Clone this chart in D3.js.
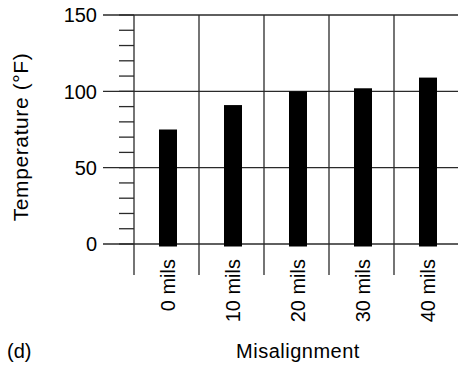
<!DOCTYPE html>
<html>
<head>
<meta charset="utf-8">
<script src="https://cdn.jsdelivr.net/npm/d3@7"></script>
<style>
  body { margin: 0; background: #fff; }
  text { font-family: "Liberation Sans", Arial, Helvetica, sans-serif; fill: #000; }
</style>
</head>
<body>
<svg></svg>
<script>
var categories = ["0 mils", "10 mils", "20 mils", "30 mils", "40 mils"];
var temps = [75, 91, 100, 102, 109];
var majorTicks = [0, 50, 100, 150];
var minorTicks = d3.range(0, 151, 10);

function chart() {
    var width = 458,
        height = 366;

    var svg = d3.select("svg")
        .attr("width", width)
        .attr("height", height);

    var y = d3.scaleLinear().domain([0, 150]).range([244, 15]);
    var x = d3.scaleBand().domain(categories).range([134, 459]);
    var lineColor = "#2a2a2a";

    // horizontal grid lines at the labelled ticks
    svg.selectAll(".hgrid")
        .data(majorTicks)
        .enter().append("line")
        .attr("x1", 103).attr("x2", width)
        .attr("y1", function(d) { return y(d); })
        .attr("y2", function(d) { return y(d); })
        .attr("stroke", lineColor).attr("stroke-width", 1.3);

    // minor ticks
    svg.selectAll(".minor")
        .data(minorTicks)
        .enter().append("line")
        .attr("x1", 119).attr("x2", 134)
        .attr("y1", function(d) { return y(d); })
        .attr("y2", function(d) { return y(d); })
        .attr("stroke", lineColor).attr("stroke-width", 1.3);

    // vertical dividers
    svg.selectAll(".vgrid")
        .data(categories)
        .enter().append("line")
        .attr("x1", function(d) { return x(d); })
        .attr("x2", function(d) { return x(d); })
        .attr("y1", y(150)).attr("y2", 275)
        .attr("stroke", lineColor).attr("stroke-width", 1.3);

    // bars
    var bw = 18;
    svg.selectAll(".bar")
        .data(temps)
        .enter().append("rect")
        .attr("x", function(d, i) { return x(categories[i]) + x.bandwidth() / 2 + 1.5 - bw / 2; })
        .attr("y", function(d) { return y(d); })
        .attr("width", bw)
        .attr("height", function(d) { return y(0) - y(d) + 2.5; })
        .attr("fill", "#000");

    // y tick labels
    svg.selectAll(".ylab")
        .data(majorTicks)
        .enter().append("text")
        .attr("x", 97)
        .attr("y", function(d) { return y(d); })
        .attr("dy", "0.36em")
        .attr("text-anchor", "end")
        .style("font-size", "20px")
        .text(function(d) { return d; });

    // x category labels, rotated
    svg.selectAll(".xlab")
        .data(categories)
        .enter().append("text")
        .attr("transform", function(d) {
            return "translate(" + (x(d) + x.bandwidth() / 2 + 1) + ",259) rotate(-90)";
        })
        .attr("dy", "0.36em")
        .attr("text-anchor", "end")
        .style("font-size", "20px")
        .text(function(d) { return d; });

    svg.append("text")
        .attr("transform", "translate(28,137) rotate(-90)")
        .attr("text-anchor", "middle")
        .style("font-size", "21px")
        .style("letter-spacing", "0.6px")
        .text("Temperature (°F)");

    svg.append("text")
        .attr("x", 298).attr("y", 358)
        .attr("text-anchor", "middle")
        .style("font-size", "20px")
        .style("letter-spacing", "0.5px")
        .text("Misalignment");

    svg.append("text")
        .attr("x", 7).attr("y", 358)
        .style("font-size", "20px")
        .text("(d)");
}

chart();
</script>
</body>
</html>
